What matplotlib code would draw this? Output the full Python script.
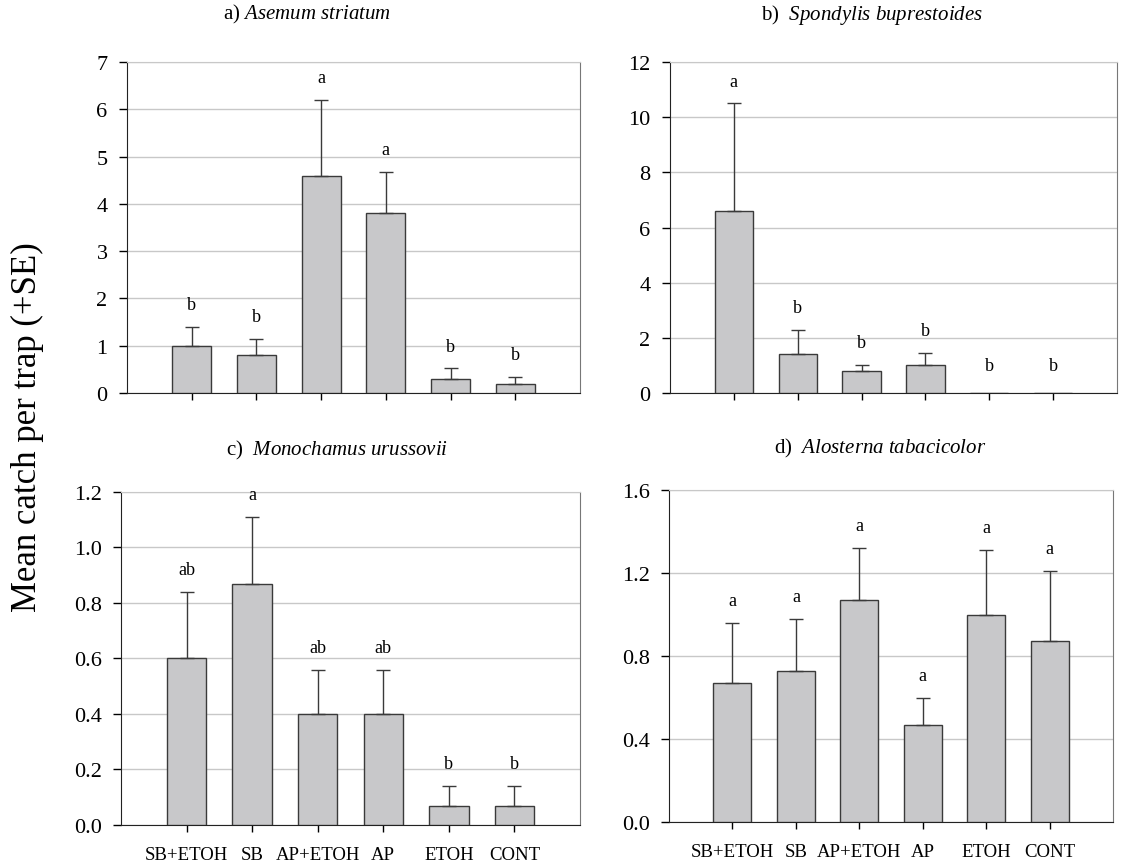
import numpy as np
import matplotlib
matplotlib.use('Agg')
from matplotlib import pyplot as plt

plt.rcParams['font.family'] = ['Liberation Serif', 'DejaVu Serif']
plt.rcParams['mathtext.fontset'] = 'custom'
plt.rcParams['mathtext.rm'] = 'Liberation Serif'
plt.rcParams['mathtext.it'] = 'Liberation Serif:italic'

treatments = ['SB+ETOH', 'SB', 'AP+ETOH', 'AP', 'ETOH', 'CONT']

titles = ['a) $\\it{Asemum\\ striatum}$', 'b)  $\\it{Spondylis\\ buprestoides}$',
          'c)  $\\it{Monochamus\\ urussovii}$', 'd)  $\\it{Alosterna\\ tabacicolor}$']

mean_a = [1.0, 0.8, 4.6, 3.8, 0.3, 0.2]
se_a = [0.4, 0.35, 1.6, 0.88, 0.22, 0.14]
let_a = ['b', 'b', 'a', 'a', 'b', 'b']

mean_b = [6.6, 1.4, 0.8, 1.0, 0.0, 0.0]
se_b = [3.9, 0.9, 0.22, 0.46, 0.0, 0.0]
let_b = ['a', 'b', 'b', 'b', 'b', 'b']

mean_c = [0.6, 0.87, 0.4, 0.4, 0.07, 0.07]
se_c = [0.24, 0.24, 0.16, 0.16, 0.07, 0.07]
let_c = ['ab', 'a', 'ab', 'ab', 'b', 'b']

mean_d = [0.67, 0.73, 1.07, 0.47, 1.0, 0.87]
se_d = [0.29, 0.25, 0.25, 0.13, 0.31, 0.34]
let_d = ['a', 'a', 'a', 'a', 'a', 'a']

yticks_a = [0, 1, 2, 3, 4, 5, 6, 7]
yticks_b = [0, 2, 4, 6, 8, 10, 12]
yticks_c = [0.0, 0.2, 0.4, 0.6, 0.8, 1.0, 1.2]
yticks_d = [0.0, 0.4, 0.8, 1.2, 1.6]

# data, axes rect, title x (axes fraction), title pad
panels = [
    (mean_a, se_a, let_a, yticks_a, '%d', [0.1125, 0.5429, 0.4012, 0.3840], 0.397, 31),
    (mean_b, se_b, let_b, yticks_b, '%d', [0.5934, 0.5429, 0.3960, 0.3840], 0.452, 31),
    (mean_c, se_c, let_c, yticks_c, '%.1f', [0.1072, 0.0418, 0.4065, 0.3863], 0.471, 27),
    (mean_d, se_d, let_d, yticks_d, '%.1f', [0.5926, 0.0452, 0.3932, 0.3852], 0.475, 27),
]

fig = plt.figure(figsize=(11.29, 8.62), dpi=100)
x = np.arange(1, len(treatments) + 1)
for i, (mean, se, letters, yt, fmt, rect, tx, tpad) in enumerate(panels):
    ax = fig.add_axes(rect)
    mean = np.array(mean)
    se = np.array(se)
    ax.bar(x, mean, width=0.6, color='#c8c8ca', edgecolor='#3a3a3a', linewidth=1.0, zorder=3)
    m = se > 0
    ax.errorbar(x[m], mean[m], yerr=[np.zeros(m.sum()), se[m]], fmt='none',
                ecolor='#3a3a3a', elinewidth=1.0, capsize=4.7, capthick=1.0, zorder=4)
    for xi, top, lab in zip(x, mean + se, letters):
        ax.annotate(lab, (xi, top), xytext=(0, 16 if top > 0 else 20),
                    textcoords='offset points', ha='center', va='center', fontsize=13)
    ax.set_xlim(0, 7)
    ax.set_ylim(yt[0], yt[-1])
    ax.set_yticks(yt)
    ax.set_yticklabels([fmt % v for v in yt])
    ax.set_xticks(x)
    if i >= 2:
        ax.set_xticklabels(treatments, fontsize=13.5)
    else:
        ax.set_xticklabels([])
    ax.yaxis.grid(True, color='#c8c8c8', linewidth=1.0, zorder=0)
    ax.set_axisbelow(True)
    ax.tick_params(axis='y', direction='out', length=6, width=1, labelsize=16, pad=8)
    ax.tick_params(axis='x', direction='out', length=5, width=1, pad=10)
    ax.spines['left'].set_color('#222222')
    ax.spines['bottom'].set_color('#222222')
    ax.spines['top'].set_color('#c8c8c8')
    ax.spines['right'].set_color('#777777')
    ax.set_title(titles[i], fontsize=15, pad=tpad, x=tx)

fig.text(0.024, 0.505, 'Mean catch per trap (+SE)', rotation=90, ha='center', va='center', fontsize=25)
fig.savefig('out.png', dpi=100)
